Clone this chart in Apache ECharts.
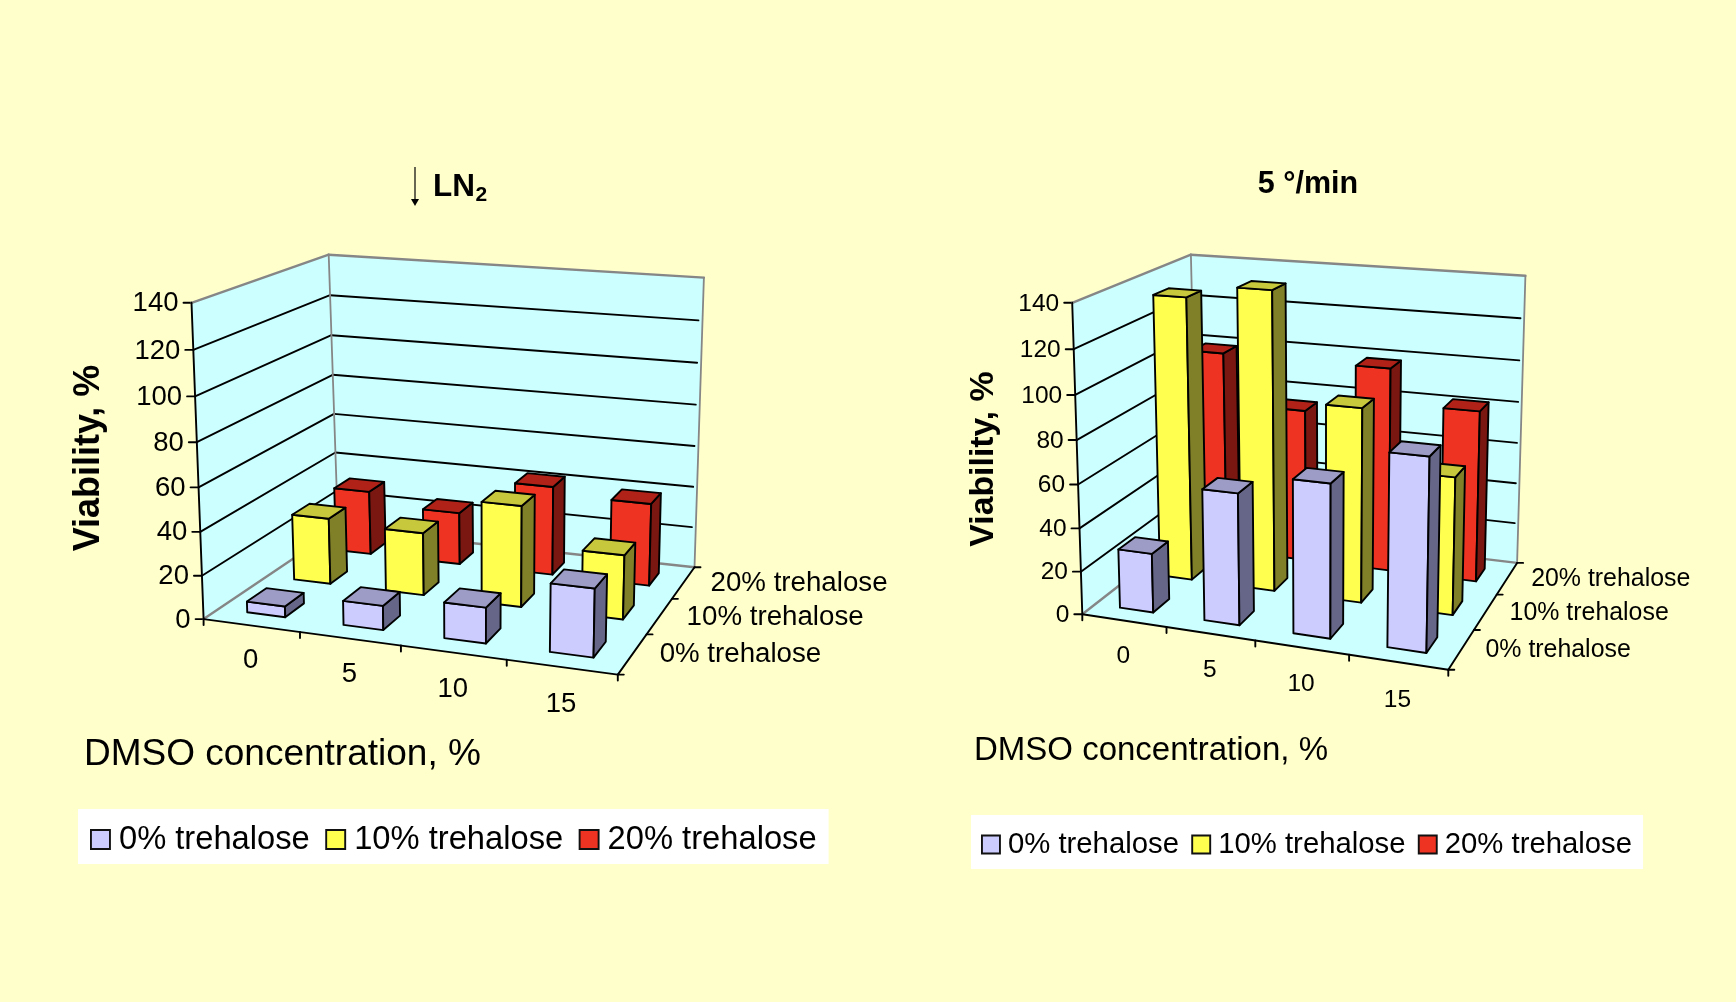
<!DOCTYPE html>
<html><head><meta charset="utf-8">
<style>html,body{margin:0;padding:0;background:#ffffcc}#c{width:1736px;height:1002px}</style>
<script src="https://cdn.jsdelivr.net/npm/echarts@6/dist/echarts.min.js"></script>
</head><body><div id="c"></div>
<script>
const dmsoLabels = ['0','5','10','15'];
const seriesNames = ['0% trehalose','10% trehalose','20% trehalose'];
const yTicks = [0,20,40,60,80,100,120,140];
const ln0  = [5,11,16,30];
const ln10 = [31.5,29.5,47,29.5];
const ln20 = [31.5,25.5,43,39.5];
const slow0  = [27.5,60,69,85];
const slow10 = [134,140,90.5,63.5];
const slow20 = [99,74.5,98.5,82];

const FONT='"Liberation Sans",Arial,sans-serif';
const faces=[
 {front:'#ccccff',top:'#9c9cc6',side:'#666688'},
 {front:'#ffff50',top:'#c8c83c',side:'#808028'},
 {front:'#ee3322',top:'#b02218',side:'#7a1710'}];

// one projective camera for the box: floor quad fixes it, front-top-left gives the height,
// back-top corners take up the small remaining misfit
function makeBox(q,ftl,btl,btr){
  const [p0,p1,p2,p3]=q;
  const dx1=p1[0]-p2[0],dx2=p3[0]-p2[0],sx=p0[0]-p1[0]+p2[0]-p3[0];
  const dy1=p1[1]-p2[1],dy2=p3[1]-p2[1],sy=p0[1]-p1[1]+p2[1]-p3[1];
  const den=dx1*dy2-dx2*dy1;
  const g=(sx*dy2-dx2*sy)/den,h=(dx1*sy-sx*dy1)/den,k=-0.048;
  const a1=p1[0]-p0[0]+g*p1[0],a2=p3[0]-p0[0]+h*p3[0],a0=p0[0],a3=ftl[0]*(1+k)-a0;
  const b1=p1[1]-p0[1]+g*p1[1],b2=p3[1]-p0[1]+h*p3[1],b0=p0[1],b3=ftl[1]*(1+k)-b0;
  const raw=(u,d,w)=>{const D=1+g*u+h*d+k*w;return [(a0+a1*u+a2*d+a3*w)/D,(b0+b1*u+b2*d+b3*w)/D];};
  const r1=raw(0,1,1),r2=raw(1,1,1);
  const e1=[btl[0]-r1[0],btl[1]-r1[1]],e2=[btr[0]-r2[0],btr[1]-r2[1]];
  return (u,d,w)=>{const r=raw(u,d,w);
    return [r[0]+(d*(1-u)*e1[0]+u*e2[0])*w,r[1]+(d*(1-u)*e1[1]+u*e2[1])*w];};
}
const charts=[
 {proj:makeBox([[203.6,619.1],[617.8,674.6],[694.5,567.3],[338,528.5]],[191.5,302.8],[328.7,254.7],[703.9,277.6]),
  grid:{left:200,top:300,width:400,height:300},tick:27.5,depth:27.7,dx:27,values:[ln0,ln10,ln20]},
 {proj:makeBox([[1082.3,614.3],[1448.3,669.8],[1517.1,562.9],[1197.2,524.8]],[1072.2,302.8],[1190.9,254.7],[1525.4,275.8]),
  grid:{left:1080,top:300,width:360,height:300},tick:24.5,depth:24.9,dx:24,values:[slow0,slow10,slow20]}];

function norm(api,params,cat,val){
  const c=api.coord([cat,val]);
  const cs=params.coordSys;
  return [(c[0]-cs.x)/cs.width,(cs.y+cs.height-c[1])/cs.height];
}
function poly(points,fill){
  return {type:'polygon',shape:{points},style:{fill,stroke:'#000',lineWidth:1.9,lineJoin:'round'}};
}
function barItem(chart,row){
  return (params,api)=>{
    const n=norm(api,params,api.value(0),api.value(1));
    const P=chart.proj,f=faces[row];
    const bw=0.1,dw=0.1333;
    const u0=n[0]-bw/2,u1=n[0]+bw/2,d0=(row+0.5)/3-dw/2,d1=(row+0.5)/3+dw/2,w=n[1];
    return {type:'group',children:[
      poly([P(u0,d0,0),P(u1,d0,0),P(u1,d0,w),P(u0,d0,w)],f.front),
      poly([P(u1,d0,0),P(u1,d1,0),P(u1,d1,w),P(u1,d0,w)],f.side),
      poly([P(u0,d0,w),P(u1,d0,w),P(u1,d1,w),P(u0,d1,w)],f.top)
    ]};
  };
}
function seg(a,b,color,lw){
  return {type:'line',shape:{x1:a[0],y1:a[1],x2:b[0],y2:b[1]},style:{stroke:color,lineWidth:lw,lineCap:'round'}};
}
function label(text,x,y,size,align){
  return {type:'text',x,y,style:{text,fill:'#000',font:size+'px '+FONT,align,verticalAlign:'middle'}};
}
function frameItem(chart){
  return (params,api)=>{
    const P=chart.proj,wall='#ccffff',gray='#868686',kids=[];
    const quad=(a,b,c,d)=>({type:'polygon',shape:{points:[a,b,c,d]},style:{fill:wall,stroke:null}});
    kids.push(quad(P(0,1,0),P(1,1,0),P(1,1,1),P(0,1,1)));
    kids.push(quad(P(0,0,0),P(0,1,0),P(0,1,1),P(0,0,1)));
    kids.push(quad(P(0,0,0),P(1,0,0),P(1,1,0),P(0,1,0)));
    yTicks.forEach(t=>{
      const w=norm(api,params,0,t)[1];
      if(t>0&&t<yTicks[yTicks.length-1]){
        kids.push(seg(P(0,0,w),P(0,1,w),'#000',1.9));
        kids.push(seg(P(0,1,w),P(0.99,1,w),'#000',1.9));
      }
      const a=P(0,0,w);
      kids.push(seg(a,[a[0]-8,a[1]],'#000',1.9));
      kids.push(label(String(t),a[0]-13,a[1]+1,chart.tick,'right'));
    });
    kids.push(seg(P(0,0,1),P(0,1,1),gray,2.4));
    kids.push(seg(P(0,1,1),P(1,1,1),gray,2.4));
    kids.push(seg(P(0,1,0),P(0,1,1),gray,1.8));
    kids.push(seg(P(1,1,0),P(1,1,1),gray,1.8));
    kids.push(seg(P(0,0,0),P(0,1,0),gray,2.4));
    kids.push(seg(P(0,1,0),P(1,1,0),gray,2.4));
    kids.push(seg(P(0,0,0),P(0,0,1),'#000',1.9));
    kids.push(seg(P(0,0,0),P(1,0,0),'#000',1.9));
    kids.push(seg(P(1,0,0),P(1,1,0),'#000',1.9));
    dmsoLabels.forEach((t,i)=>{
      const a=P(i/4,0,0);kids.push(seg(a,[a[0],a[1]+6],'#000',1.9));
      const u=norm(api,params,i,0)[0],m=P(u,0,0);
      kids.push(label(t,m[0]-0.5,m[1]+35+u*3,chart.tick,'center'));
    });
    const e=P(1,0,0);kids.push(seg(e,[e[0],e[1]+6],'#000',1.9));
    seriesNames.forEach((t,i)=>{
      const a=P(1,i/3,0);kids.push(seg(a,[a[0]+6,a[1]],'#000',1.9));
      const m=P(1,(i+0.5)/3,0);
      kids.push(label(t,m[0]+chart.dx,m[1]+1,chart.depth,'left'));
    });
    const b=P(1,1,0);kids.push(seg(b,[b[0]+6,b[1]],'#000',1.9));
    return {type:'group',children:kids};
  };
}
const series=[];
charts.forEach((ch,ci)=>{
  series.push({type:'custom',name:'frame'+ci,xAxisIndex:ci,yAxisIndex:ci,silent:true,z:1,
    renderItem:frameItem(ch),data:[[0,0]]});
  [2,1,0].forEach(row=>{
    series.push({type:'custom',name:seriesNames[row],xAxisIndex:ci,yAxisIndex:ci,silent:true,z:2+(2-row),
      itemStyle:{color:faces[row].front,borderColor:'#000',borderWidth:1.5},
      renderItem:barItem(ch,row),data:ch.values[row].map((v,i)=>[i,v])});
  });
});
const gtext=(text,x,y,size,opt)=>Object.assign({type:'text',x,y,z:10,style:{text,fill:'#000',
   font:(opt&&opt.bold?'bold ':'')+size+'px '+FONT,align:(opt&&opt.align)||'left',verticalAlign:'middle'}},opt&&opt.extra||{});
const legendCommon={data:seriesNames,orient:'horizontal',backgroundColor:'#fff',icon:'rect',selectedMode:false,
   itemStyle:{borderColor:'#111',borderWidth:1.9}};
const chart=echarts.init(document.getElementById('c'),null,{renderer:'canvas'});
chart.setOption({
  animation:false,backgroundColor:'#ffffcc',
  grid:charts.map(c=>c.grid),
  xAxis:charts.map((c,i)=>({type:'category',gridIndex:i,data:dmsoLabels,show:false})),
  yAxis:charts.map((c,i)=>({type:'value',gridIndex:i,min:0,max:140,interval:20,show:false})),
  legend:[
    Object.assign({},legendCommon,{left:78,top:809,padding:[14,12,8,12],itemWidth:19,itemHeight:19,itemGap:15.5,
      textStyle:{fontFamily:FONT,fontSize:32.7,color:'#000',padding:[0,0,0,4]}}),
    Object.assign({},legendCommon,{left:971,top:815,padding:[15,11,10,10],itemWidth:18,itemHeight:18,itemGap:12.3,
      textStyle:{fontFamily:FONT,fontSize:29.3,color:'#000',padding:[0,0,0,3]}})
  ],
  series,
  graphic:[
    {type:'line',z:10,shape:{x1:415,y1:167,x2:415,y2:203},style:{stroke:'#000',lineWidth:1.2}},
    {type:'polygon',z:10,shape:{points:[[411,199],[419,199],[415,206]]},style:{fill:'#000'}},
    gtext('LN',433,187,31.5,{bold:true}),
    gtext('2',475.5,195,21,{bold:true}),
    gtext('5 °/min',1308,185,30.5,{bold:true,align:'center'}),
    gtext('Viability, %',89,458,36,{bold:true,align:'center',extra:{rotation:Math.PI/2}}),
    gtext('Viability, %',984,459,33.8,{bold:true,align:'center',extra:{rotation:Math.PI/2}}),
    gtext('DMSO concentration, %',84,755,37),
    gtext('DMSO concentration, %',974,751,33)
  ]
});
</script></body></html>
